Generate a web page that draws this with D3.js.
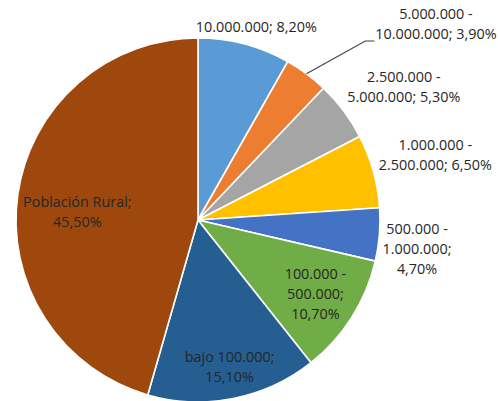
<!DOCTYPE html>
<html><head><meta charset="utf-8">
<script src="https://cdn.jsdelivr.net/npm/d3@7"></script>
<style>html,body{margin:0;padding:0;background:#fff;}svg{display:block;}</style>
</head><body>
<svg id="c" width="498" height="401"></svg>
<script>
const categories = ["10.000.000", "5.000.000 - 10.000.000", "2.500.000 - 5.000.000", "1.000.000 - 2.500.000", "500.000 - 1.000.000", "100.000 - 500.000", "bajo 100.000", "Población Rural"];
const values = [8.2, 3.9, 5.3, 6.5, 4.7, 10.7, 15.1, 45.5];
const valueLabels = ["8,20%", "3,90%", "5,30%", "6,50%", "4,70%", "10,70%", "15,10%", "45,50%"];
const labelLines = [
  ["10.000.000; 8,20%"],
  ["5.000.000 -", "10.000.000; 3,90%"],
  ["2.500.000 -", "5.000.000; 5,30%"],
  ["1.000.000 -", "2.500.000; 6,50%"],
  ["500.000 -", "1.000.000;", "4,70%"],
  ["100.000 -", "500.000;", "10,70%"],
  ["bajo 100.000;", "15,10%"],
  ["Población Rural;", "45,50%"]
];
const colors = ["#5B9BD5", "#ED7D31", "#A5A5A5", "#FFC000", "#4472C4", "#70AD47", "#255E91", "#9E480E"];

// layout (label placement in polar terms: angle shift in degrees, radius in px)
const cx = 198, cy = 220, R = 182;
const labelPolar = [[2, 202], [14, 308], [4, 245], [0.3, 246], [3, 221], [0, 139], [-1, 150], [-4, 121]];
const lineH = 20;

const svg = d3.select("#c");
const g = svg.append("g").attr("transform", `translate(${cx},${cy})`);
const pie = d3.pie().sort(null).value(d => d)(values);
const arc = d3.arc().innerRadius(0).outerRadius(R);

g.selectAll("path.s").data(pie).join("path")
  .attr("class", "s")
  .attr("d", arc)
  .attr("fill", (d, i) => colors[i])
  .attr("stroke", "#fff")
  .attr("stroke-width", 1.6)
  .attr("stroke-linejoin", "round");

function polar(a, r) { return [Math.sin(a) * r, -Math.cos(a) * r]; }

// leader line for small slice
{
  const d = pie[1];
  const mid = (d.startAngle + d.endAngle) / 2;
  const p0 = polar(mid, R);
  const p1 = polar(mid + 6.5 * Math.PI / 180, 245);
  g.append("polyline")
    .attr("points", [p0, p1, [p1[0] + 9, p1[1]]].map(p => p.join(",")).join(" "))
    .attr("fill", "none").attr("stroke", "#404040").attr("stroke-width", 1.1);
}

pie.forEach((d, i) => {
  const mid = (d.startAngle + d.endAngle) / 2 + labelPolar[i][0] * Math.PI / 180;
  const [x, y] = polar(mid, labelPolar[i][1]);
  const lines = labelLines[i];
  const t = g.append("text")
    .attr("text-anchor", "middle")
    .attr("font-family", "'Open Sans', 'Noto Sans', sans-serif")
    .attr("font-size", 14.4)
    .attr("fill", "#262626");
  lines.forEach((ln, k) => {
    t.append("tspan").attr("x", x)
      .attr("y", y + (k - (lines.length - 1) / 2) * lineH)
      .attr("dy", "0.35em")
      .text(ln);
  });
});
</script>
</body></html>
